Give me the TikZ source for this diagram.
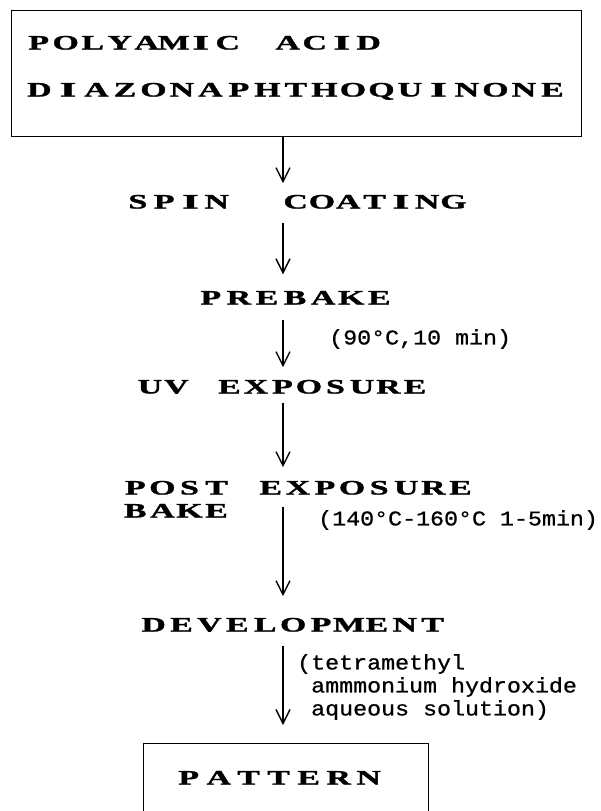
\documentclass[tikz,border=0pt]{standalone}
\usepackage{fontspec}
\usepackage{graphicx}
\usetikzlibrary{arrows.meta}
\newfontfamily\capf{Liberation Serif Bold}[FakeBold=1.2]
\newfontfamily\monof{Liberation Mono}[FakeStretch=1.11,FakeBold=0.8]
\newlength\cellw
\def\tcells#1{\tcellsi#1\relax}
\def\tcellsi#1{\ifx#1\relax\else\makebox[\cellw]{\ifx#1I\scalebox{2.1}[1]{I}\else\scalebox{1.65}[1]{#1}\fi}\expandafter\tcellsi\fi}
\newcommand\capsw[2]{\setlength\cellw{#1pt}\tcells{#2}}
\tikzset{
  capnode/.style={inner sep=0pt, anchor=base west, font=\capf\fontsize{20.5}{21}\selectfont},
  lbl/.style={inner sep=0pt, anchor=west, align=left, font=\monof\fontsize{21}{23}\selectfont},
  boxline/.style={draw, line width=1.4pt},
  arr/.style={line width=1.4pt, -{Straight Barb[length=14pt,width=14pt,line width=1.4pt]}}
}
\begin{document}
\begin{tikzpicture}[x=1pt,y=-1pt]
\fill[white] (0,0) rectangle (601,811);
\useasboundingbox (0,0) rectangle (601,811);
\coordinate (ax) at (283,0);
% top box
\node[boxline, anchor=north west, minimum width=570pt, minimum height=126pt, inner sep=0pt] (top) at (11,10) {};
\node[capnode] (poly) at (25,49.5) {\capsw{27}{POLYAMIC}\hspace{6pt}\capsw{27}{~ACID}};
\node[capnode] (diazo) at (25,96.5) {\capsw{28.5}{DIAZONAPHTHOQUINONE}};
% steps
\node[capnode] (spin) at (124.5,208.5) {\capsw{26.3}{SPIN~~COATING}};
\node[capnode] (prebake) at (196.5,304.5) {\capsw{28.1}{PREBAKE}};
\node[capnode] (uv) at (136.5,393.5) {\capsw{26.5}{UV~EXPOSURE}};
\node[capnode] (post) at (121.5,494.5) {\capsw{27.1}{POST~EXPOSURE}};
\node[capnode] (bake) at (121.5,517.5) {\capsw{27.1}{BAKE}};
\node[capnode] (dev) at (139.5,631.5) {\capsw{27.9}{DEVELOPMENT}};
% pattern box (cut by the lower edge)
\begin{scope}
\clip (0,0) rectangle (601,811);
\node[boxline, anchor=north west, minimum width=285pt, minimum height=110pt, inner sep=0pt] (patbox) at (143,743) {};
\end{scope}
\node[capnode] (pattern) at (173.5,784.5) {\capsw{30}{PATTERN}};
% labels
\node[lbl] (l1) at (329,339) {(90°C,10 min)};
\node[lbl] (l2) at (318,520) {(140°C-160°C 1-5min)};
\node[lbl] (l3) at (297,687) {(tetramethyl\\\phantom{(}ammmonium hydroxide\\\phantom{(}aqueous solution)};
% arrows
\draw[arr, shorten >=11.5pt] (top.south -| ax) -- (spin.north -| ax);
\draw[arr, shorten <=14.5pt, shorten >=16.5pt] (spin.south -| ax) -- (prebake.north -| ax);
\draw[arr, shorten <=15.5pt, shorten >=12.5pt] (prebake.south -| ax) -- (uv.north -| ax);
\draw[arr, shorten <=8.5pt, shorten >=13.5pt] (uv.south -| ax) -- (post.north -| ax);
\draw[arr, shorten <=12.5pt, shorten >=21.5pt] (post.south -| ax) -- (dev.north -| ax);
\draw[arr, shorten <=13.5pt, shorten >=18pt] (dev.south -| ax) -- (patbox.north -| ax);
\end{tikzpicture}
\end{document}
